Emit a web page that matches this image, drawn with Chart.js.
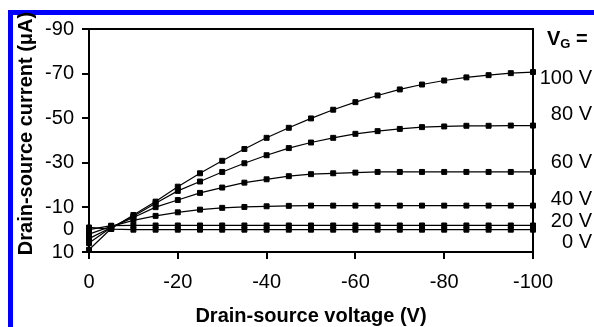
<!DOCTYPE html>
<html>
<head>
<meta charset="utf-8">
<script src="https://cdn.jsdelivr.net/npm/chart.js@4/dist/chart.umd.min.js"></script>
<style>
  html, body { margin: 0; padding: 0; background: #fff; }
  #wrap { width: 594px; height: 327px; }
</style>
</head>
<body>
<div id="wrap"><canvas id="chart" width="594" height="327"></canvas></div>
<script>
// drain-source voltage (V), one point every 5 V
const drain_voltage = [0, -5, -10, -15, -20, -25, -30, -35, -40, -45, -50, -55, -60, -65, -70, -75, -80, -85, -90, -95, -100];

// drain-source current (uA) for each gate voltage
const vg_100 = [9, -0.5, -6.6, -12.6, -19.3, -25.3, -30.9, -36.2, -41.2, -45.7, -49.9, -53.8, -57.2, -60.2, -62.9, -65.1, -66.9, -68.3, -69.3, -70.2, -70.7];
const vg_80 = [6, -1, -6, -11.9, -17.4, -21.6, -25.9, -29.8, -33.4, -36.6, -39.1, -41.2, -43, -44.2, -45.2, -46, -46.3, -46.6, -46.6, -46.7, -46.7];
const vg_60 = [4, -1, -5.5, -10.1, -13.3, -16.5, -18.9, -21.1, -22.6, -24, -24.9, -25.3, -25.6, -25.9, -25.9, -25.9, -25.9, -25.9, -25.9, -25.9, -25.9];
const vg_40 = [2, -1.5, -4.2, -6.2, -7.8, -9, -9.8, -10.2, -10.5, -10.7, -10.8, -10.8, -10.8, -10.8, -10.8, -10.8, -10.8, -10.8, -10.8, -10.8, -10.8];
const vg_20 = [0, -1.8, -1.9, -1.9, -1.9, -1.9, -1.9, -1.9, -1.9, -1.9, -1.9, -1.9, -1.9, -1.9, -1.9, -1.9, -1.9, -1.9, -1.9, -1.9, -1.9];
const vg_0 = [-1, -0.3, 0, 0, 0, 0, 0, 0, 0, 0, 0, 0, 0, 0, 0, 0, 0, 0, 0, 0, 0];

const y_ticks = [-90, -70, -50, -30, -10, 0, 10];
const gate_labels = ['100 V', '80 V', '60 V', '40 V', '20 V', '0 V'];
const gate_label_at = [-67.7, -51.5, -30, -13.4, -3.5, 5.9];
const vg_header_at = -85.2;

const series = [vg_100, vg_80, vg_60, vg_40, vg_20, vg_0];
const FONT = 'Liberation Sans, Arial, sans-serif';

function makeDataset(values, i) {
  return {
    label: gate_labels[i],
    data: values.map((v, j) => ({ x: drain_voltage[j], y: v })),
    borderColor: '#000',
    backgroundColor: '#000',
    borderWidth: 1.2,
    pointStyle: 'rect',
    pointRadius: 3.5,
    pointBorderWidth: 1,
    tension: 0,
    clip: false
  };
}

const decorations = {
  id: 'decorations',
  beforeDraw(chart) {
    const ctx = chart.ctx;
    ctx.save();
    ctx.fillStyle = '#fff';
    ctx.fillRect(0, 0, chart.width, chart.height);
    // blue frame of the figure
    ctx.fillStyle = '#0000ff';
    ctx.fillRect(8, 10, chart.width - 8, 5);
    ctx.fillRect(8, 10, 5, chart.height - 10);
    ctx.restore();
  },
  beforeDatasetsDraw(chart) {
    const { ctx, chartArea: a } = chart;
    ctx.save();
    ctx.strokeStyle = '#000';
    ctx.lineWidth = 2;
    ctx.beginPath();
    ctx.moveTo(a.left - 1, a.top);
    ctx.lineTo(a.right, a.top);
    ctx.lineTo(a.right, a.bottom);
    ctx.stroke();
    ctx.restore();
  },
  afterDraw(chart) {
    const { ctx, chartArea: a } = chart;
    const y = chart.scales.y;
    ctx.save();
    ctx.fillStyle = '#000';

    // y axis title
    ctx.save();
    ctx.translate(26, (a.top + a.bottom) / 2 - 7);
    ctx.rotate(-Math.PI / 2);
    ctx.font = 'bold 20px ' + FONT;
    ctx.textAlign = 'center';
    ctx.textBaseline = 'middle';
    ctx.fillText('Drain-source current (\u03bcA)', 0, 0);
    ctx.restore();

    // gate voltage labels on the right
    ctx.font = '20px ' + FONT;
    ctx.textAlign = 'right';
    ctx.textBaseline = 'middle';
    gate_labels.forEach((t, i) => {
      ctx.fillText(t, a.right + 59, y.getPixelForValue(gate_label_at[i]));
    });

    // V_G = header
    const hy = y.getPixelForValue(vg_header_at);
    let hx = a.right + 14;
    ctx.textAlign = 'left';
    ctx.textBaseline = 'middle';
    ctx.font = 'bold 20px ' + FONT;
    ctx.fillText('V', hx, hy);
    hx += ctx.measureText('V').width;
    ctx.font = 'bold 13px ' + FONT;
    ctx.fillText('G', hx, hy + 5);
    hx += ctx.measureText('G').width;
    ctx.font = 'bold 20px ' + FONT;
    ctx.fillText(' =', hx, hy);
    ctx.restore();
  }
};

new Chart(document.querySelector('#chart'), {
  type: 'line',
  data: { datasets: series.map(makeDataset) },
  options: {
    responsive: false,
    animation: false,
    devicePixelRatio: 1,
    layout: { padding: { top: 29, right: 61, left: 0, bottom: 0 } },
    plugins: { legend: { display: false }, tooltip: { enabled: false } },
    scales: {
      x: {
        type: 'linear',
        min: -100,
        max: 0,
        reverse: true,
        ticks: { stepSize: 20, color: '#000', font: { family: FONT, size: 20 }, padding: 11, maxRotation: 0 },
        grid: { drawOnChartArea: false, color: '#000', lineWidth: 2, tickLength: 7 },
        border: { display: true, color: '#000', width: 2 },
        title: {
          display: true,
          text: 'Drain-source voltage (V)',
          color: '#000',
          font: { family: FONT, size: 20, weight: 'bold', lineHeight: 1.1 },
          padding: 0
        },
        afterFit: s => { s.height = 75; }
      },
      y: {
        type: 'linear',
        min: -90,
        max: 10,
        reverse: true,
        afterBuildTicks: s => { s.ticks = y_ticks.map(v => ({ value: v })); },
        ticks: { color: '#000', font: { family: FONT, size: 20 }, padding: 8 },
        grid: {
          drawOnChartArea: false,
          color: c => (c.tick && c.tick.value === 0 ? 'rgba(0,0,0,0)' : '#000'),
          lineWidth: 2,
          tickLength: 7
        },
        border: { display: true, color: '#000', width: 2 },
        afterFit: s => { s.width = 89; }
      }
    }
  },
  plugins: [decorations]
});
</script>
</body>
</html>
